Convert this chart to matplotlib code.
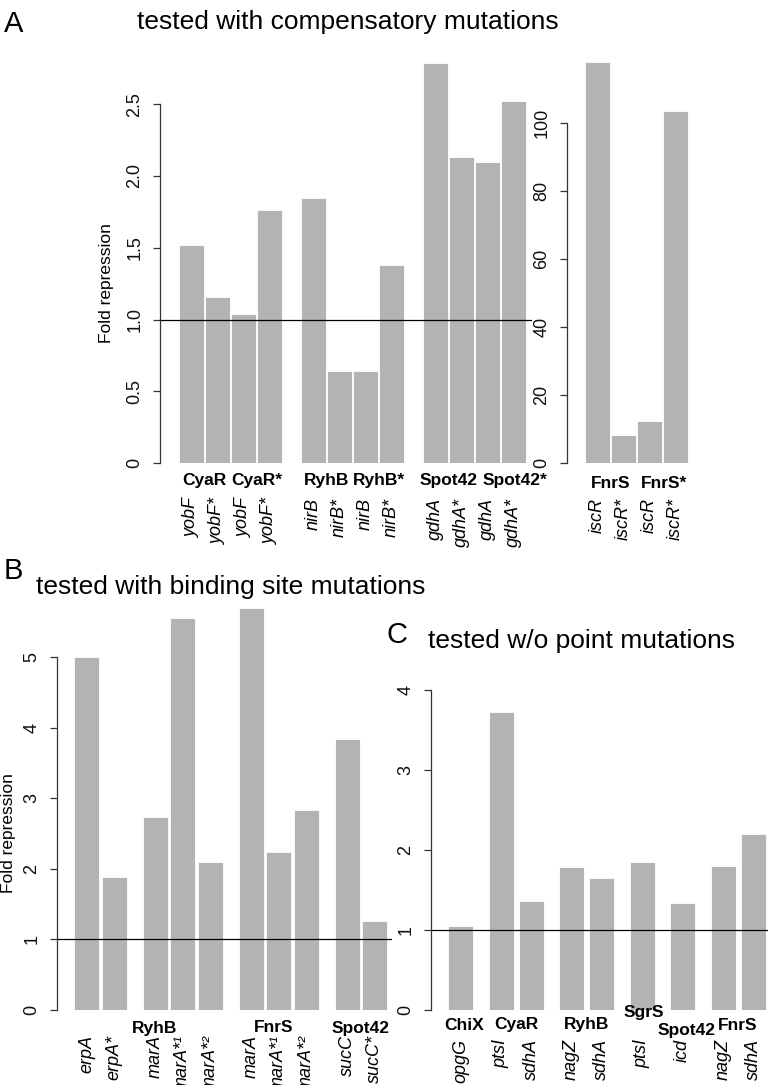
import matplotlib
matplotlib.use("Agg")
import matplotlib.pyplot as plt
from matplotlib.transforms import blended_transform_factory

plt.rcParams['font.family'] = ['Liberation Sans', 'DejaVu Sans']

# ---------------- data ----------------
# Panel A (left axis)
a_groups = ["CyaR", "CyaR*", "RyhB", "RyhB*", "Spot42", "Spot42*"]
a_group_sizes = [4, 4, 4]
a_genes = ["yobF", "yobF*", "yobF", "yobF*",
           "nirB", "nirB*", "nirB", "nirB*",
           "gdhA", "gdhA*", "gdhA", "gdhA*"]
a_values = [1.52, 1.16, 1.04, 1.76,
            1.85, 0.64, 0.64, 1.38,
            2.79, 2.13, 2.10, 2.52]
a_ticks = [0, 0.5, 1.0, 1.5, 2.0, 2.5]
a_ticklabels = ["0", "0.5", "1.0", "1.5", "2.0", "2.5"]

# Panel A (FnrS, own axis)
a2_groups = ["FnrS", "FnrS*"]
a2_genes = ["iscR", "iscR*", "iscR", "iscR*"]
a2_values = [118, 8.2, 12.3, 103.5]
a2_ticks = [0, 20, 40, 60, 80, 100]

# Panel B
b_group_sizes = [2, 3, 3, 2]
b_groups = ["RyhB", "FnrS", "Spot42"]
b_genes = ["erpA", "erpA*", "marA", "marA*\u00b9", "marA*\u00b2",
           "marA", "marA*\u00b9", "marA*\u00b2", "sucC", "sucC*"]
b_values = [5.0, 1.88, 2.73, 5.55, 2.10, 5.70, 2.24, 2.83, 3.84, 1.26]
b_ticks = [0, 1, 2, 3, 4, 5]

# Panel C
c_group_sizes = [1, 2, 2, 1, 1, 2]
c_groups = ["ChiX", "CyaR", "RyhB", "SgrS", "Spot42", "FnrS"]
c_genes = ["opgG", "ptsI", "sdhA", "nagZ", "sdhA", "ptsI", "icd", "nagZ", "sdhA"]
c_values = [1.05, 3.72, 1.36, 1.79, 1.65, 1.85, 1.34, 1.80, 2.20]
c_ticks = [0, 1, 2, 3, 4]

# ---------------- layout helpers ----------------
W, H = 768, 1085
fig = plt.figure(figsize=(W / 100, H / 100), dpi=100)

BAR = '#b3b3b3'
AXC = '#333333'


def make_ax(x0, x1, y_zero, px_per_unit, ymax):
    height = ymax * px_per_unit
    ax = fig.add_axes([x0 / W, 1 - y_zero / H, (x1 - x0) / W, height / H])
    ax.set_xlim(0, x1 - x0)
    ax.set_ylim(0, ymax)
    for s in ['top', 'right', 'bottom']:
        ax.spines[s].set_visible(False)
    ax.spines['left'].set_color(AXC)
    ax.spines['left'].set_linewidth(0.9)
    ax.set_xticks([])
    ax.tick_params(axis='y', length=5, width=0.9, color=AXC, pad=7,
                   labelsize=13, labelcolor='#111111')
    return ax


def lefts(sizes, offset, step, gap):
    out = []
    x = offset
    for gi, s in enumerate(sizes):
        for i in range(s):
            out.append(x)
            x += step
        x += gap
    return out


def set_yticks(ax, ticks, labels=None):
    ax.set_yticks(ticks)
    if labels is None:
        labels = [str(t) for t in ticks]
    ax.set_yticklabels(labels)
    for lab in ax.get_yticklabels():
        lab.set_rotation(90)
        lab.set_va('center')
        lab.set_ha('right')
    ax.spines['left'].set_bounds(ticks[0], ticks[-1])


def fy(py):
    return 1 - py / H


def under_labels(ax, xs, texts, py, **kw):
    tr = blended_transform_factory(ax.transData, fig.transFigure)
    for x, t in zip(xs, texts):
        ax.text(x, fy(py), t, transform=tr, clip_on=False, **kw)


gene_kw = dict(rotation=90, ha='center', va='top', fontsize=13, style='italic')
grp_kw = dict(ha='center', va='center', fontsize=12.5, fontweight='bold')
BW = 25

# ---------------- Panel A ----------------
axA = make_ax(160, 532, 463, 143.5, 2.85)
xa = lefts(a_group_sizes, 19, 26, 18)
axA.bar(xa, a_values, width=BW, align='edge', color=BAR, edgecolor='white', linewidth=0.6)
axA.axhline(1, color='black', lw=0.9)
set_yticks(axA, a_ticks, a_ticklabels)
ca = [x + BW / 2 for x in xa]
under_labels(axA, ca, a_genes, 498, **gene_kw)
a_shift = [0, 0, 0, 0, 0, 14]
ga = [(ca[2 * i] + ca[2 * i + 1]) / 2 + a_shift[i] for i in range(len(a_groups))]
under_labels(axA, ga, a_groups, 480, **grp_kw)

axA2 = make_ax(567, 690, 463, 3.4, 409 / 3.4)
xa2 = lefts([4], 18, 26, 0)
axA2.bar(xa2, a2_values, width=BW, align='edge', color=BAR, edgecolor='white', linewidth=0.6)
set_yticks(axA2, a2_ticks)
ca2 = [x + BW / 2 for x in xa2]
under_labels(axA2, ca2, a2_genes, 498, **gene_kw)
ga2 = [(ca2[0] + ca2[1]) / 2, (ca2[2] + ca2[3]) / 2 + 2]
under_labels(axA2, ga2, a2_groups, 483, **grp_kw)

fig.text(107 / W, fy(283), "Fold repression", rotation=90, ha='center', va='center', fontsize=12.5)
fig.text(4 / W, fy(32), "A", fontsize=21, va='baseline', ha='left')
fig.text(137 / W, fy(29), "tested with compensatory mutations", fontsize=19, va='baseline', ha='left')

# ---------------- Panel B ----------------
axB = make_ax(57, 392, 1010, 70.6, 5.85)
xb = lefts(b_group_sizes, 17, 27.5, 13.5)
axB.bar(xb, b_values, width=BW, align='edge', color=BAR, edgecolor='white', linewidth=0.6)
axB.axhline(1, color='black', lw=0.9)
set_yticks(axB, b_ticks)
cb = [x + BW / 2 for x in xb]
under_labels(axB, cb, b_genes, 1035, **gene_kw)
b_spans = [(0, 4), (5, 7), (8, 9)]
b_shift = [6, -5, 0]
gb = [(cb[a] + cb[b]) / 2 + s for (a, b), s in zip(b_spans, b_shift)]
under_labels(axB, gb, b_groups, 1028, **grp_kw)

fig.text(9 / W, fy(833), "Fold repression", rotation=90, ha='center', va='center', fontsize=12.5)
fig.text(4 / W, fy(579), "B", fontsize=21, va='baseline', ha='left')
fig.text(36 / W, fy(594), "tested with binding site mutations", fontsize=19, va='baseline', ha='left')

# ---------------- Panel C ----------------
axC = make_ax(431, 768, 1010, 80, 4.05)
xc = lefts(c_group_sizes, 17, 30, 10.5)
axC.bar(xc, c_values, width=BW, align='edge', color=BAR, edgecolor='white', linewidth=0.6)
axC.axhline(1, color='black', lw=0.9)
set_yticks(axC, c_ticks)
cc = [x + BW / 2 for x in xc]
under_labels(axC, cc, c_genes, 1039, **gene_kw)
idx = 0
gc = []
for s in c_group_sizes:
    gc.append((cc[idx] + cc[idx + s - 1]) / 2)
    idx += s
c_xshift = [4, 0, 0, 2, 4, 0]
c_ypos = [1025, 1025, 1025, 1012, 1030, 1025]
tr = blended_transform_factory(axC.transData, fig.transFigure)
for x, dx, py, t in zip(gc, c_xshift, c_ypos, c_groups):
    axC.text(x + dx, fy(py), t, transform=tr, clip_on=False, **grp_kw)

fig.text(386 / W, fy(643), "C", fontsize=21, va='baseline', ha='left')
fig.text(428 / W, fy(648), "tested w/o point mutations", fontsize=19, va='baseline', ha='left')

fig.savefig("out.png", dpi=100)
